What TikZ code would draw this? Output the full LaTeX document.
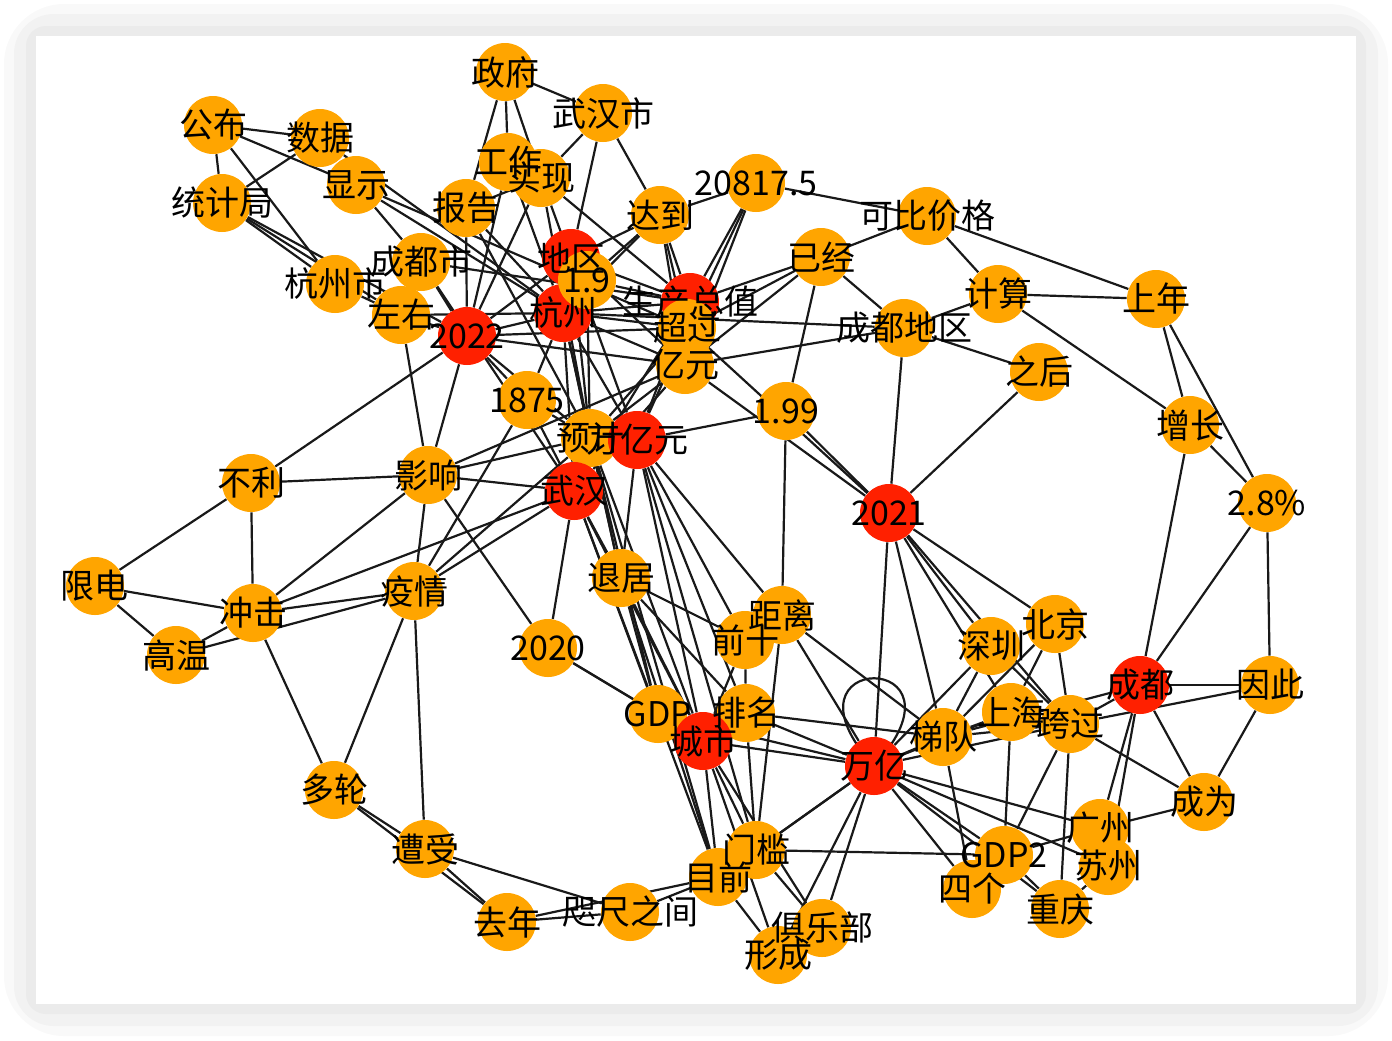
\documentclass[tikz,border=0pt]{standalone}
\usepackage{fontspec}
\setmainfont{Noto Sans CJK SC}
\definecolor{nodeorange}{HTML}{FFA500}
\definecolor{nodered}{HTML}{FF2000}
\pgfdeclarelayer{bg}
\pgfsetlayers{bg,main}

\begin{document}
\begin{tikzpicture}[x=0.5pt,y=-0.5pt,
        on/.style={circle,fill=nodeorange,minimum size=29pt,inner sep=0pt},
        rn/.style={on,fill=nodered},
        lb/.style={font=\fontsize{17pt}{19pt}\selectfont,inner sep=0pt},
        ed/.style={line width=1.1pt,black!90}]
        \useasboundingbox (0,0) rectangle (1392,1040);
        % nodes
        \node[on] (zf) at (505,72) {};
        \node[on] (whs) at (603,113) {};
        \node[on] (gb) at (213,125) {};
        \node[on] (sj) at (320,138) {};
        \node[on] (xs) at (356,185) {};
        \node[on] (gz) at (508,162) {};
        \node[on] (sx) at (541,178) {};
        \node[on] (bg) at (466,208) {};
        \node[on] (tjj) at (222,203) {};
        \node[on] (dd) at (660,215) {};
        \node[on] (n208) at (756,183) {};
        \node[on] (kbjg) at (927,216) {};
        \node[on] (yj) at (821,257) {};
        \node[on] (cds) at (421,262) {};
        \node[on] (hzs) at (335,284) {};
        \node[rn] (dq) at (571,258) {};
        \node[rn] (hz) at (563,313) {};
        \node[on] (n19) at (587,280) {};
        \node[rn] (sczz) at (690,302) {};
        \node[on] (cg) at (687,328) {};
        \node[on] (js) at (998,294) {};
        \node[on] (sn) at (1156,299) {};
        \node[on] (zy) at (401,315) {};
        \node[rn] (n2022) at (467,336) {};
        \node[on] (cddq) at (904,328) {};
        \node[on] (yy) at (685,365) {};
        \node[on] (zh) at (1039,372) {};
        \node[on] (n1875) at (527,400) {};
        \node[on] (n199) at (786,411) {};
        \node[on] (zz) at (1190,425) {};
        \node[on] (yuji) at (590,438) {};
        \node[rn] (wyy) at (637,440) {};
        \node[on] (bl) at (251,483) {};
        \node[on] (yx) at (428,475) {};
        \node[rn] (wh) at (574,491) {};
        \node[rn] (n2021) at (889,513) {};
        \node[on] (n28) at (1267,503) {};
        \node[on] (xd) at (95,586) {};
        \node[on] (cj) at (253,613) {};
        \node[on] (yq) at (414,591) {};
        \node[on] (tj) at (621,578) {};
        \node[on] (qs) at (745,640) {};
        \node[on] (jl) at (782,615) {};
        \node[on] (n2020) at (548,648) {};
        \node[on] (bj) at (1055,624) {};
        \node[on] (sz) at (991,646) {};
        \node[on] (gw) at (176,655) {};
        \node[rn] (cd) at (1140,685) {};
        \node[on] (yc) at (1270,685) {};
        \node[on] (gdp) at (658,714) {};
        \node[on] (pm) at (746,713) {};
        \node[rn] (cs) at (703,741) {};
        \node[on] (sh) at (1011,712) {};
        \node[on] (kg) at (1070,724) {};
        \node[on] (td) at (943,737) {};
        \node[rn] (wy) at (874,766) {};
        \node[on] (dl) at (334,790) {};
        \node[on] (cw) at (1204,802) {};
        \node[on] (gzh) at (1100,828) {};
        \node[on] (zs) at (425,849) {};
        \node[on] (mk) at (756,850) {};
        \node[on] (sg4) at (972,889) {};
        \node[on] (gdp2) at (1004,855) {};
        \node[on] (suz) at (1108,866) {};
        \node[on] (mq) at (718,877) {};
        \node[on] (cq) at (1060,909) {};
        \node[on] (qn) at (507,922) {};
        \node[on] (zczj) at (630,912) {};
        \node[on] (xc) at (778,955) {};
        \node[on] (jlb) at (822,928) {};
        % labels on top
        \foreach \n/\s in {zf/政府,whs/武汉市,gb/公布,sj/数据,xs/显示,gz/工作,sx/实现,bg/报告,
            tjj/统计局,dd/达到,n208/20817.5,kbjg/可比价格,yj/已经,cds/成都市,hzs/杭州市,dq/地区,
            hz/杭州,n19/1.9,sczz/生产总值,cg/超过,js/计算,sn/上年,zy/左右,n2022/2022,cddq/成都地区,
            yy/亿元,zh/之后,n1875/1875,n199/1.99,zz/增长,yuji/预计,wyy/万亿元,bl/不利,yx/影响,
            wh/武汉,n2021/2021,n28/2.8\%,xd/限电,cj/冲击,yq/疫情,tj/退居,qs/前十,jl/距离,
            n2020/2020,bj/北京,sz/深圳,gw/高温,cd/成都,yc/因此,gdp/GDP,pm/排名,cs/城市,sh/上海,
            kg/跨过,td/梯队,wy/万亿,dl/多轮,cw/成为,gzh/广州,zs/遭受,mk/门槛,sg4/四个,gdp2/GDP2,
            suz/苏州,mq/目前,cq/重庆,qn/去年,zczj/咫尺之间,xc/形成,jlb/俱乐部}
            \node[lb] (l\n) at (\n) {\s};
        \begin{pgfonlayer}{bg}
        % frame
        \fill[gray!5,rounded corners=30] (4,4) rectangle (1388,1036);
        \fill[gray!10,rounded corners=20] (14,14) rectangle (1378,1026);
        \fill[gray!16,rounded corners=10] (26,26) rectangle (1366,1014);
        \fill[white] (36,36) rectangle (1356,1004);
        % edges
        \draw[ed] (gb)--(sj); \draw[ed] (gb)--(xs); \draw[ed] (gb)--(tjj); \draw[ed] (gb)--(hzs);
        \draw[ed] (sj)--(tjj); \draw[ed] (sj)--(hz); \draw[ed] (tjj)--(hzs); \draw[ed] (tjj)--(zy);
        \draw[ed] (tjj)--(n2022); \draw[ed] (xs)--(cds); \draw[ed] (xs)--(hz); \draw[ed] (xs)--(cg);
        \draw[ed] (hzs)--(zy); \draw[ed] (cds)--(n2022); \draw[ed] (cds)--(sczz); \draw[ed] (zy)--(n2022);
        \draw[ed] (zy)--(hz); \draw[ed] (zy)--(yx); \draw[ed] (cds)--(wh);
        \draw[ed] (zf)--(gz); \draw[ed] (zf)--(sx); \draw[ed] (zf)--(bg); \draw[ed] (zf)--(whs);
        \draw[ed] (whs)--(sx); \draw[ed] (whs)--(dq); \draw[ed] (whs)--(dd); \draw[ed] (bg)--(sx);
        \draw[ed] (bg)--(n2022); \draw[ed] (bg)--(hz); \draw[ed] (bg)--(yuji); \draw[ed] (gz)--(n2022);
        \draw[ed] (gz)--(hz); \draw[ed] (sx)--(wyy); \draw[ed] (sx)--(sczz); \draw[ed] (sx)--(yuji);
        \draw[ed] (sx)--(n2022); \draw[ed] (dd)--(dq); \draw[ed] (dd)--(hz); \draw[ed] (dd)--(n208);
        \draw[ed] (dd)--(sczz); \draw[ed] (dd)--(cg); \draw[ed] (dd)--(yy); \draw[ed] (n208)--(kbjg);
        \draw[ed] (n208)--(sczz); \draw[ed] (n208)--(cg); \draw[ed] (n208)--(yy);
        \draw[ed] (kbjg)--(yj); \draw[ed] (kbjg)--(js); \draw[ed] (kbjg)--(sn); \draw[ed] (yj)--(sczz);
        \draw[ed] (yj)--(cg); \draw[ed] (yj)--(cddq); \draw[ed] (yj)--(n199); \draw[ed] (yj)--(yy);
        \draw[ed] (js)--(cddq); \draw[ed] (js)--(sn); \draw[ed] (js)--(zz); \draw[ed] (sn)--(zz);
        \draw[ed] (sn)--(n28); \draw[ed] (cddq)--(zh); \draw[ed] (cddq)--(n2021); \draw[ed] (cddq)--(hz);
        \draw[ed] (cddq)--(yy); \draw[ed] (zh)--(n2021); \draw[ed] (zz)--(n28); \draw[ed] (zz)--(cd);
        \draw[ed] (n28)--(cd); \draw[ed] (n28)--(yc);
        \draw[ed] (n2022)--(dq); \draw[ed] (n2022)--(hz); \draw[ed] (n2022)--(n1875); \draw[ed] (n2022)--(bl);
        \draw[ed] (n2022)--(yx); \draw[ed] (n2022)--(yuji); \draw[ed] (n2022)--(cg); \draw[ed] (n2022)--(yy);
        \draw[ed] (n1875)--(hz); \draw[ed] (n1875)--(yuji); \draw[ed] (n1875)--(wh); \draw[ed] (n1875)--(yq);
        \draw[ed] (hz)--(yuji); \draw[ed] (hz)--(wyy); \draw[ed] (hz)--(wh); \draw[ed] (hz)--(tj);
        \draw[ed] (hz)--(sczz); \draw[ed] (hz)--(cg); \draw[ed] (hz)--(yy); \draw[ed] (dq)--(sczz);
        \draw[ed] (dq)--(yy); \draw[ed] (dq)--(yuji); \draw[ed] (n19)--(sczz); \draw[ed] (n19)--(dd);
        \draw[ed] (n19)--(yuji); \draw[ed] (yy)--(yuji); \draw[ed] (yy)--(wh); \draw[ed] (yy)--(n2021);
        \draw[ed] (yy)--(yx); \draw[ed] (cg)--(yuji); \draw[ed] (cg)--(wyy); \draw[ed] (cg)--(n2021);
        \draw[ed] (sczz)--(wyy); \draw[ed] (sczz)--(wh); \draw[ed] (n199)--(wyy); \draw[ed] (n199)--(n2021);
        \draw[ed] (n199)--(jl); \draw[ed] (wyy)--(cs); \draw[ed] (wyy)--(jl); \draw[ed] (wyy)--(qs);
        \draw[ed] (wyy)--(pm); \draw[ed] (wyy)--(tj); \draw[ed] (wyy)--(mk);
        \draw[ed] (yuji)--(wh); \draw[ed] (yuji)--(yq); \draw[ed] (yuji)--(tj); \draw[ed] (yuji)--(gdp);
        \draw[ed] (yuji)--(cs); \draw[ed] (yuji)--(mq); \draw[ed] (yuji)--(yx);
        \draw[ed] (wh)--(yx); \draw[ed] (wh)--(yq); \draw[ed] (wh)--(cj); \draw[ed] (wh)--(n2020);
        \draw[ed] (wh)--(tj); \draw[ed] (wh)--(gdp); \draw[ed] (wh)--(cs); \draw[ed] (wh)--(mq);
        \draw[ed] (yx)--(bl); \draw[ed] (yx)--(cj); \draw[ed] (yx)--(yq); \draw[ed] (yx)--(n2020);
        \draw[ed] (bl)--(xd); \draw[ed] (bl)--(cj); \draw[ed] (xd)--(cj); \draw[ed] (xd)--(gw);
        \draw[ed] (cj)--(gw); \draw[ed] (gw)--(yq); \draw[ed] (cj)--(yq); \draw[ed] (cj)--(dl);
        \draw[ed] (yq)--(dl); \draw[ed] (yq)--(zs); \draw[ed] (dl)--(zs); \draw[ed] (zs)--(qn);
        \draw[ed] (dl)--(qn); \draw[ed] (zs)--(zczj); \draw[ed] (qn)--(zczj); \draw[ed] (qn)--(mq);
        \draw[ed] (zczj)--(mq); \draw[ed] (n2020)--(gdp); \draw[ed] (n2020)--(cs);
        \draw[ed] (tj)--(qs); \draw[ed] (tj)--(cs); \draw[ed] (tj)--(pm); \draw[ed] (tj)--(gdp);
        \draw[ed] (tj)--(mq); \draw[ed] (qs)--(pm); \draw[ed] (qs)--(cs); \draw[ed] (jl)--(mk);
        \draw[ed] (jl)--(wy); \draw[ed] (jl)--(td); \draw[ed] (pm)--(wy); \draw[ed] (pm)--(td);
        \draw[ed] (pm)--(mk); \draw[ed] (gdp)--(cs); \draw[ed] (gdp)--(wy); \draw[ed] (cs)--(wy);
        \draw[ed] (cs)--(mk); \draw[ed] (cs)--(mq); \draw[ed] (cs)--(xc); \draw[ed] (cs)--(jlb);
        \draw[ed] (mq)--(mk); \draw[ed] (mk)--(wy); \draw[ed] (mk)--(gdp2); \draw[ed] (mk)--(jlb);
        \draw[ed] (mq)--(xc); \draw[ed] (mq)--(wy);
        \draw[ed] (n2021)--(wy); \draw[ed] (n2021)--(sz); \draw[ed] (n2021)--(bj); \draw[ed] (n2021)--(sh);
        \draw[ed] (n2021)--(kg); \draw[ed] (n2021)--(td);
        \draw[ed] (wy)--(td); \draw[ed] (wy)--(jlb); \draw[ed] (wy)--(xc); \draw[ed] (wy)--(gdp2);
        \draw[ed] (wy)--(sg4); \draw[ed] (wy)--(gzh); \draw[ed] (wy)--(suz); \draw[ed] (wy)--(sh);
        \draw[ed] (wy)--(kg); \draw[ed] (wy)--(sz); \draw[ed] (wy)--(cq);
        \draw[ed] (td)--(sh); \draw[ed] (td)--(sz); \draw[ed] (td)--(kg); \draw[ed] (td)--(bj);
        \draw[ed] (td)--(sg4); \draw[ed] (td)--(cd); \draw[ed] (sz)--(kg); \draw[ed] (bj)--(kg);
        \draw[ed] (bj)--(sh); \draw[ed] (sh)--(kg); \draw[ed] (sh)--(gdp2); \draw[ed] (kg)--(gdp2);
        \draw[ed] (kg)--(cq); \draw[ed] (kg)--(cd); \draw[ed] (kg)--(cw); \draw[ed] (kg)--(yc);
        \draw[ed] (cd)--(yc); \draw[ed] (cd)--(cw); \draw[ed] (cd)--(gzh); \draw[ed] (cd)--(suz);
        \draw[ed] (yc)--(cw); \draw[ed] (cw)--(gzh); \draw[ed] (gdp2)--(sg4); \draw[ed] (gdp2)--(gzh);
        \draw[ed] (gdp2)--(cq); \draw[ed] (cq)--(suz);
        \draw[ed] (wy.center) .. controls +(-107,-117) and +(107,-117) .. (wy.center);
        \end{pgfonlayer}
      \end{tikzpicture}
\end{document}
